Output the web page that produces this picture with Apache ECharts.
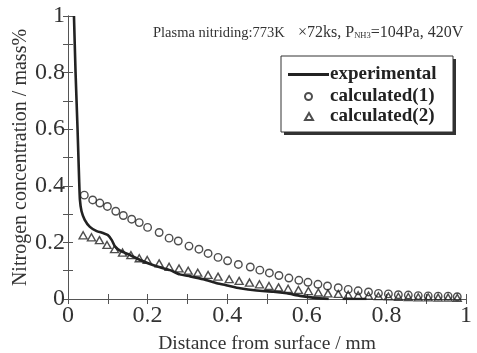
<!DOCTYPE html>
<html>
<head>
<meta charset="utf-8">
<script src="https://cdn.jsdelivr.net/npm/echarts@6/dist/echarts.min.js"></script>
<style>html,body{margin:0;padding:0;background:#fff}#c{width:477px;height:353px}</style>
</head>
<body>
<div id="c"></div>
<script>
// ---- data ----
const xTickLabels = ['0', '0.2', '0.4', '0.6', '0.8', '1'];
const yTickLabels = ['0', '0.2', '0.4', '0.6', '0.8', '1'];

const expX = [0.015,0.019,0.024,0.028,0.030,0.034,0.042,0.055,0.072,0.088,0.100,0.110,0.118,0.131,0.156,0.181,0.206,0.231,0.256,0.281,0.307,0.340,0.374,0.400,0.432,0.474,0.516,0.550,0.583,0.620,0.655,null,0.690,0.750];
const expY = [1.000,0.800,0.600,0.420,0.350,0.310,0.280,0.255,0.240,0.233,0.226,0.208,0.186,0.171,0.155,0.138,0.124,0.112,0.102,0.087,0.080,0.070,0.056,0.048,0.038,0.030,0.026,0.020,0.011,0.004,0.000,null,0.000,0.000];

const calc1X = [0.041,0.062,0.080,0.099,0.120,0.139,0.160,0.179,0.200,0.229,0.254,0.277,0.304,0.329,0.352,0.377,0.401,0.428,0.458,0.482,0.506,0.530,0.555,0.580,0.603,0.628,0.652,0.679,0.704,0.729,0.755,0.780,0.805,0.830,0.855,0.880,0.905,0.930,0.955,0.978];
const calc1Y = [0.367,0.350,0.339,0.327,0.310,0.295,0.282,0.270,0.253,0.235,0.215,0.205,0.187,0.176,0.161,0.147,0.135,0.122,0.113,0.102,0.092,0.083,0.074,0.066,0.059,0.052,0.046,0.040,0.034,0.029,0.025,0.020,0.018,0.015,0.014,0.012,0.011,0.010,0.010,0.008];

const calc2X = [0.038,0.059,0.079,0.098,0.117,0.137,0.158,0.179,0.199,0.229,0.254,0.279,0.302,0.326,0.352,0.377,0.405,0.430,0.456,0.481,0.505,0.529,0.553,0.579,0.604,0.629,0.653,0.679,0.704,0.729,0.755,0.780,0.805,0.830,0.855,0.880,0.905,0.930,0.955,0.978];
const calc2Y = [0.225,0.218,0.208,0.191,0.176,0.164,0.155,0.144,0.138,0.126,0.114,0.108,0.100,0.093,0.085,0.079,0.070,0.064,0.058,0.052,0.046,0.041,0.036,0.032,0.028,0.023,0.020,0.018,0.015,0.013,0.012,0.010,0.009,0.008,0.007,0.006,0.006,0.005,0.005,0.004];

const seriesNames = ['experimental', 'calculated(1)', 'calculated(2)'];
const xName = 'Distance from surface / mm';
const yName = 'Nitrogen concentration / mass%';
const noteLeft = 'Plasma nitriding:773K';
const noteRight = '×72ks, P{s|NH3}=104Pa, 420V';

// ---- build ----
const pair = (xs, ys) => xs.map((x, i) => (x === null ? [null, null] : [x, ys[i]]));
const FONT = '"Liberation Serif", "Times New Roman", serif';
const axisCol = '#555';
const ink = '#222';

function xAxisDef(pos, labels) {
  return {
    type: 'value', min: 0, max: 1, interval: 0.2, position: pos,
    axisLine: { show: true, lineStyle: { color: axisCol, width: 1 } },
    axisTick: { show: true, inside: true, length: 5, lineStyle: { color: axisCol } },
    minorTick: { show: true, splitNumber: 2, length: 5, lineStyle: { color: axisCol } },
    splitLine: { show: false },
    axisLabel: labels ? {
      show: true, margin: 5, fontFamily: FONT, fontSize: 24, color: '#333',
      formatter: v => xTickLabels[Math.round(v / 0.2)]
    } : { show: false }
  };
}
function yAxisDef(pos, labels) {
  return {
    type: 'value', min: 0, max: 1, interval: 0.2, position: pos,
    axisLine: { show: true, lineStyle: { color: axisCol, width: 1 } },
    axisTick: { show: true, inside: true, length: 5, lineStyle: { color: axisCol } },
    minorTick: { show: true, splitNumber: 2, length: 5, lineStyle: { color: axisCol } },
    splitLine: { show: false },
    axisLabel: labels ? {
      show: true, margin: 3, fontFamily: FONT, fontSize: 24, color: '#333',
      formatter: v => yTickLabels[Math.round(v / 0.2)]
    } : { show: false }
  };
}

const xa = xAxisDef('bottom', true);
Object.assign(xa, { name: xName, nameLocation: 'middle', nameGap: 35, nameMoveOverlap: false,
  nameTextStyle: { fontFamily: FONT, fontSize: 19.5, color: '#333' } });
const ya = yAxisDef('left', true);
Object.assign(ya, { name: yName, nameLocation: 'middle', nameGap: 37, nameMoveOverlap: false,
  nameTextStyle: { fontFamily: FONT, fontSize: 20, color: '#333' } });

const legendText = { fontFamily: FONT, fontSize: 19, fontWeight: 'bold', color: '#222' };

const option = {
  animation: false,
  backgroundColor: '#fff',
  textStyle: { fontFamily: FONT },
  grid: { left: 68, right: 11, top: 16, bottom: 54, containLabel: false, outerBoundsMode: 'none' },
  xAxis: [xa, xAxisDef('top', false)],
  yAxis: [ya, yAxisDef('right', false)],
  legend: [
    { data: [{ name: seriesNames[0], icon: 'rect' }], left: 288, top: 65, padding: 0,
      itemWidth: 41, itemHeight: 3, z: 6,
      textStyle: Object.assign({ padding: [0, 0, 0, -4] }, legendText) },
    { data: [seriesNames[1]], left: 304, top: 87, padding: 0, itemWidth: 7, itemHeight: 7, z: 6,
      textStyle: Object.assign({ padding: [0, 0, 0, 13] }, legendText) },
    { data: [seriesNames[2]], left: 304, top: 107, padding: 0, itemWidth: 8, itemHeight: 7, z: 6,
      textStyle: Object.assign({ padding: [0, 0, 0, 12] }, legendText) }
  ],
  graphic: [
    { type: 'rect', z: 5, shape: { x: 284, y: 59, width: 172, height: 76 },
      style: { fill: '#333' } },
    { type: 'rect', z: 5, shape: { x: 281, y: 56, width: 172, height: 76 },
      style: { fill: '#fff', stroke: '#333', lineWidth: 1 } },
    { type: 'text', z: 5, left: 153, top: 26,
      style: { text: noteLeft, font: '14.5px "Liberation Serif"', fill: '#333' } },
    { type: 'text', z: 5, left: 298, top: 25,
      style: {
        text: noteRight,
        font: '16px "Liberation Serif"', fill: '#333',
        rich: { s: { fontSize: 8.5, fontFamily: FONT, fill: '#333', padding: [5, 0, 0, 0] } }
      } }
  ],
  series: [
    { name: seriesNames[0], type: 'line', symbol: 'none', smooth: 0.2, connectNulls: false,
      data: pair(expX, expY), lineStyle: { color: ink, width: 2.6 }, itemStyle: { color: ink }, z: 3 },
    { name: seriesNames[1], type: 'scatter', symbol: 'circle', symbolSize: 7.5,
      data: pair(calc1X, calc1Y),
      itemStyle: { color: 'rgba(255,255,255,0)', borderColor: ink, borderWidth: 1.4 }, z: 2 },
    { name: seriesNames[2], type: 'scatter', symbol: 'triangle', symbolSize: [8, 7],
      data: pair(calc2X, calc2Y),
      itemStyle: { color: 'rgba(255,255,255,0)', borderColor: ink, borderWidth: 1.4 }, z: 2 }
  ]
};

const chart = echarts.init(document.getElementById('c'), null, { renderer: 'canvas' });
chart.setOption(option);
</script>
</body>
</html>
